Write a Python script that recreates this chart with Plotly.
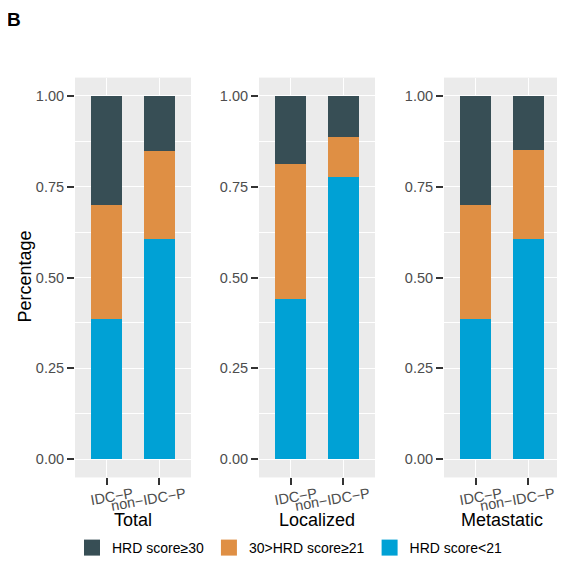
import plotly.graph_objects as go

panels = ["Total", "Localized", "Metastatic"]
groups = ["IDC\u2212P", "non\u2212IDC\u2212P"]
series_names = ["HRD score<21", "30>HRD score\u226521", "HRD score\u226530"]
series_colors = ["#00A1D5", "#DF8F44", "#374E55"]
# segment proportions per panel: [IDC-P, non-IDC-P]
low = {"Total": [0.387, 0.607], "Localized": [0.442, 0.777], "Metastatic": [0.387, 0.607]}
mid = {"Total": [0.313, 0.242], "Localized": [0.371, 0.110], "Metastatic": [0.313, 0.243]}
high = {"Total": [0.300, 0.151], "Localized": [0.187, 0.113], "Metastatic": [0.300, 0.150]}
y_ticks = [0.0, 0.25, 0.5, 0.75, 1.0]

OFF = 8  # page body margin
W, H = 565 - OFF, 564 - OFF
panel_px = [(75, 191), (259, 375), (444, 560)]
top_px, bot_px = 78, 480
FONT = "Liberation Sans, Arial, sans-serif"


def px_x(v):
    return (v - OFF) / W


def px_y(v):
    return 1 - (v - OFF) / H


fig = go.Figure()
series_data = [low, mid, high]
for pi, p in enumerate(panels):
    sfx = "" if pi == 0 else str(pi + 1)
    for si in range(3):
        fig.add_trace(go.Bar(
            x=groups, y=series_data[si][p], name=series_names[si],
            marker=dict(color=series_colors[si], line=dict(width=0)),
            width=0.6, xaxis="x" + sfx, yaxis="y" + sfx,
            legendgroup=series_names[si], showlegend=False,
            hoverinfo="skip",
        ))
# legend keys
for si in range(3):
    fig.add_trace(go.Scatter(
        x=[None], y=[None], mode="markers", name=series_names[si],
        marker=dict(symbol="square", size=17, color=series_colors[si]),
        legendgroup=series_names[si], showlegend=True, hoverinfo="skip",
    ))

layout = dict(
    width=W, height=H, barmode="stack",
    margin=dict(l=0, r=0, t=0, b=0),
    paper_bgcolor="white", plot_bgcolor="#EBEBEB",
    font=dict(family=FONT, color="black"),
    showlegend=True,
    legend=dict(orientation="h", x=px_x(290), xanchor="center", y=px_y(551), yanchor="middle",
                traceorder="reversed", font=dict(size=14, color="black"),
                bgcolor="rgba(0,0,0,0)"),
)
ydom = [px_y(bot_px), px_y(top_px)]
annotations = []
for pi, p in enumerate(panels):
    sfx = "" if pi == 0 else str(pi + 1)
    x0, x1 = panel_px[pi]
    layout["xaxis" + sfx] = dict(
        domain=[px_x(x0), px_x(x1)], anchor="y" + sfx, type="category",
        range=[-0.6, 1.6], showgrid=True, gridcolor="white", gridwidth=1.3,
        ticks="outside", ticklen=7, tickwidth=1.5, tickcolor="#333333",
        tickangle=-10, tickfont=dict(size=14.5, color="#4D4D4D"),
        ticklabelshift=26, ticklabelstandoff=-5,
        zeroline=False, showline=False, fixedrange=True,
    )
    layout["yaxis" + sfx] = dict(
        domain=ydom, anchor="x" + sfx, range=[-0.05, 1.05],
        tickvals=y_ticks, tickformat=".2f",
        showgrid=True, gridcolor="white", gridwidth=1.3,
        minor=dict(dtick=0.125, tick0=0, showgrid=True, gridcolor="white", gridwidth=0.7, ticks=""),
        ticks="outside", ticklen=7, tickwidth=1.5, tickcolor="#333333",
        tickfont=dict(size=14.5, color="#4D4D4D"),
        zeroline=False, showline=False, fixedrange=True,
    )
    annotations.append(dict(text=p, x=px_x((x0 + x1) / 2), y=px_y(523), xref="paper", yref="paper",
                            xanchor="center", yanchor="middle", showarrow=False,
                            font=dict(size=18, color="black")))
annotations.append(dict(text="Percentage", x=px_x(25), y=px_y(278), xref="paper", yref="paper",
                        xanchor="center", yanchor="middle", textangle=-90, showarrow=False,
                        font=dict(size=18, color="black")))
annotations.append(dict(text="<b>B</b>", x=px_x(14), y=px_y(20), xref="paper", yref="paper",
                        xanchor="center", yanchor="middle", showarrow=False,
                        font=dict(size=19, color="black")))
layout["annotations"] = annotations
fig.update_layout(**layout)
fig.write_html("out.html")
